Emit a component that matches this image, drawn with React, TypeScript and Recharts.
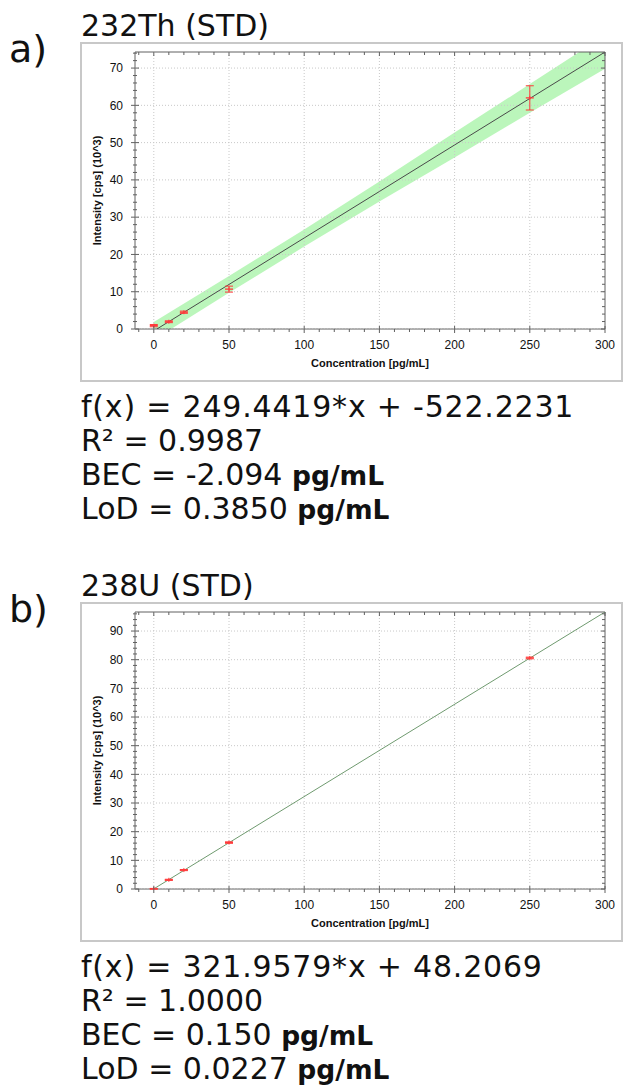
import React from "react";
import {
  ComposedChart,
  Area,
  Line,
  Scatter,
  ErrorBar,
  XAxis,
  YAxis,
  ReferenceLine,
  ReferenceArea,
  Label,
} from "recharts";

// ---------- Data: 232Th ----------
const thStdX = [0, 10, 20, 50, 250];
const thStdY = [0.9, 1.95, 4.5, 10.7, 62.0];
const thStdErr = [0.3, 0.25, 0.3, 0.8, 3.25];
const thFitX = [0, 50, 100, 150, 200, 250, 300];
const thFitY = [-0.52, 11.95, 24.42, 36.89, 49.37, 61.84, 74.31];
const thBandLo = [-2.9, 9.7, 22.1, 34.2, 46.0, 58.0, 69.8];
const thBandHi = [1.9, 14.2, 26.7, 39.6, 52.7, 65.7, 78.8];
const thYMajor = [0, 10, 20, 30, 40, 50, 60, 70];
const thYMax = 74.31;

// ---------- Data: 238U ----------
const uStdX = [0, 10, 20, 50, 250];
const uStdY = [0.05, 3.2, 6.6, 16.2, 80.6];
const uStdErr = [0.15, 0.2, 0.2, 0.25, 0.3];
const uFitX = [0, 300];
const uFitY = [0.05, 96.64];
const uYMajor = [0, 10, 20, 30, 40, 50, 60, 70, 80, 90];
const uYMax = 96.64;

// ---------- Shared axis ----------
const xMajor = [0, 50, 100, 150, 200, 250, 300];
const xMinor = [-10, 10, 20, 30, 40, 60, 70, 80, 90, 110, 120, 130, 140, 160, 170, 180, 190, 210, 220, 230, 240, 260, 270, 280, 290];
const xDomain: [number, number] = [-12.5, 300];
const yMinorStep = 2;

// ---------- Layout ----------
const CHART_W = 541;
const CHART_H = 338;
const M_TOP = 9;
const Y_AXIS_W = 54;
const X_AXIS_H = 52;
const M_RIGHT = 17;
const PLOT_W = CHART_W - Y_AXIS_W - M_RIGHT;
const PLOT_H = CHART_H - M_TOP - X_AXIS_H;
const AXIS_COLOR = "#606060";
const TICK_FONT = "'Liberation Sans', Arial, sans-serif";
const TEXT_FONT = "'DejaVu Sans', Verdana, sans-serif";
const RED = "#ff3b3b";

function buildMinorY(max: number): number[] {
  const out: number[] = [];
  for (let v = 0; v <= max; v += yMinorStep) out.push(v);
  return out;
}

const XTick = (props: any) => {
  const { x, y, payload } = props;
  const v = payload.value;
  const major = xMajor.includes(v);
  const top = y - PLOT_H;
  return (
    <g>
      <line x1={x} x2={x} y1={y - (major ? 3 : 0)} y2={y + (major ? 4 : 3)} stroke={AXIS_COLOR} strokeWidth={1} />
      <line x1={x} x2={x} y1={top} y2={top + (major ? 4 : 3)} stroke={AXIS_COLOR} strokeWidth={1} />
      {major && (
        <text x={x} y={y + 19.5} textAnchor="middle" fontFamily={TICK_FONT} fontSize={12} fill="#111">
          {v}
        </text>
      )}
    </g>
  );
};

const makeYTick = (majors: number[]) => (props: any) => {
  const { x, y, payload } = props;
  const v = payload.value;
  const major = majors.includes(v);
  const right = x + PLOT_W;
  return (
    <g>
      <line x1={x - (major ? 4 : 2)} x2={x + (major ? 4 : 2)} y1={y} y2={y} stroke={AXIS_COLOR} strokeWidth={1} />
      <line x1={right - (major ? 4 : 3)} x2={right} y1={y} y2={y} stroke={AXIS_COLOR} strokeWidth={1} />
      {major && (
        <text x={x - 12} y={y + 4.3} textAnchor="end" fontFamily={TICK_FONT} fontSize={12} fill="#111">
          {v}
        </text>
      )}
    </g>
  );
};

const PointMark = (props: any) => {
  const { cx, cy } = props;
  if (cx == null || cy == null) return <g />;
  return (
    <g>
      <line x1={cx - 4} x2={cx + 4} y1={cy} y2={cy} stroke={RED} strokeWidth={1.3} />
      <line x1={cx} x2={cx} y1={cy - 2} y2={cy + 2} stroke={RED} strokeWidth={1} />
    </g>
  );
};

const XLabel = (props: any) => {
  const vb = props.viewBox || {};
  return (
    <text x={vb.x + vb.width / 2} y={vb.y + 38} textAnchor="middle" fontFamily={TICK_FONT} fontWeight="bold" fontSize={11} fill="#111">
      Concentration [pg/mL]
    </text>
  );
};

const YLabel = (props: any) => {
  const vb = props.viewBox || {};
  const cx = vb.x + 20;
  const cy = vb.y + vb.height / 2;
  return (
    <text x={cx} y={cy} transform={`rotate(-90, ${cx}, ${cy})`} textAnchor="middle" fontFamily={TICK_FONT} fontWeight="bold" fontSize={11} fill="#111">
      Intensity [cps] (10^3)
    </text>
  );
};

const Unit = () => <b style={{ fontSize: "26.5px" }}>pg/mL</b>;

type PanelProps = {
  top: number;
  letter: string;
  title: string;
  stdX: number[];
  stdY: number[];
  stdErr: number[];
  fitX: number[];
  fitY: number[];
  bandLo?: number[];
  bandHi?: number[];
  yMajor: number[];
  yMax: number;
  lineColor: string;
  eq: React.ReactNode[];
};

function Panel(p: PanelProps) {
  const rows = p.fitX.map((x, i) => ({
    x,
    fit: p.fitY[i],
    band: p.bandLo && p.bandHi ? [p.bandLo[i], p.bandHi[i]] : undefined,
  }));
  const pts = p.stdX.map((x, i) => ({ x, y: p.stdY[i], err: p.stdErr[i] }));
  const yTicks = buildMinorY(p.yMax);
  const YTick = makeYTick(p.yMajor);
  return (
    <div style={{ position: "absolute", left: 0, top: p.top, width: 624, height: 530 }}>
      <div
        style={{
          position: "absolute",
          left: 80,
          top: 42,
          width: 543,
          height: 340,
          border: "2px solid #c8c8c8",
          boxSizing: "border-box",
          background: "#fff",
        }}
      />
      <div style={{ position: "absolute", left: 9, top: 27, fontFamily: TEXT_FONT, fontSize: 38, lineHeight: "44px", color: "#111" }}>
        {p.letter}
      </div>
      <div style={{ position: "absolute", left: 81, top: 11, fontFamily: TEXT_FONT, fontSize: 30, lineHeight: "30px", color: "#111", whiteSpace: "nowrap" }}>
        {p.title}
      </div>
      <div style={{ position: "absolute", left: 81, top: 43 }}>
        <ComposedChart width={CHART_W} height={CHART_H} data={rows} margin={{ top: M_TOP, right: M_RIGHT, bottom: 0, left: 0 }}>
          <XAxis
            type="number"
            dataKey="x"
            domain={xDomain}
            allowDataOverflow
            ticks={[...xMajor, ...xMinor].sort((a, b) => a - b)}
            interval={0}
            tickSize={0}
            tickMargin={0}
            tickLine={false}
            axisLine={false}
            tick={<XTick />}
            height={X_AXIS_H}
          >
            <Label content={<XLabel />} />
          </XAxis>
          <YAxis
            type="number"
            domain={[0, p.yMax]}
            allowDataOverflow
            ticks={yTicks}
            interval={0}
            tickSize={0}
            tickMargin={0}
            tickLine={false}
            axisLine={false}
            tick={<YTick />}
            width={Y_AXIS_W}
          >
            <Label content={<YLabel />} />
          </YAxis>
          {xMajor.slice(0, -1).map((v) => (
            <ReferenceLine key={"gx" + v} x={v} stroke="#c8c8c8" strokeDasharray="1 2" ifOverflow="hidden" />
          ))}
          {p.yMajor.map((v) => (
            <ReferenceLine key={"gy" + v} y={v} stroke="#c8c8c8" strokeDasharray="1 2" ifOverflow="hidden" />
          ))}
          {p.bandLo && (
            <Area
              dataKey="band"
              type="linear"
              stroke="none"
              fill="#b4f5b4"
              fillOpacity={0.9}
              isAnimationActive={false}
              dot={false}
              activeDot={false}
            />
          )}
          <Line dataKey="fit" type="linear" stroke={p.lineColor} strokeWidth={1} dot={false} activeDot={false} isAnimationActive={false} />
          <Scatter data={pts} dataKey="y" shape={<PointMark />} isAnimationActive={false}>
            <ErrorBar dataKey="err" direction="y" width={4} stroke={RED} strokeWidth={1} />
          </Scatter>
          <ReferenceArea x1={xDomain[0]} x2={xDomain[1]} y1={0} y2={p.yMax} stroke={AXIS_COLOR} strokeWidth={1} fill="none" fillOpacity={0} ifOverflow="visible" />
        </ComposedChart>
      </div>
      <div style={{ position: "absolute", left: 81, top: 390, fontFamily: TEXT_FONT, fontSize: 30, lineHeight: "33.8px", color: "#111", whiteSpace: "nowrap" }}>
        {p.eq.map((line, i) => (
          <div key={i}>{line}</div>
        ))}
      </div>
    </div>
  );
}

export default function App() {
  return (
    <div style={{ position: "absolute", left: 0, top: 0, width: 624, height: 1088, background: "#fff" }}>
      <Panel
        top={0}
        letter="a)"
        title="232Th (STD)"
        stdX={thStdX}
        stdY={thStdY}
        stdErr={thStdErr}
        fitX={thFitX}
        fitY={thFitY}
        bandLo={thBandLo}
        bandHi={thBandHi}
        yMajor={thYMajor}
        yMax={thYMax}
        lineColor="#4a4a4a"
        eq={[
          <span style={{ letterSpacing: "0.8px" }}>f(x) = 249.4419*x + -522.2231</span>,
          "R² = 0.9987",
          <span>BEC = -2.094 <Unit /></span>,
          <span>LoD = 0.3850 <Unit /></span>,
        ]}
      />
      <Panel
        top={560}
        letter="b)"
        title="238U (STD)"
        stdX={uStdX}
        stdY={uStdY}
        stdErr={uStdErr}
        fitX={uFitX}
        fitY={uFitY}
        yMajor={uYMajor}
        yMax={uYMax}
        lineColor="#6f9a6f"
        eq={[
          <span style={{ letterSpacing: "0.8px" }}>f(x) = 321.9579*x + 48.2069</span>,
          "R² = 1.0000",
          <span>BEC = 0.150 <Unit /></span>,
          <span>LoD = 0.0227 <Unit /></span>,
        ]}
      />
    </div>
  );
}
